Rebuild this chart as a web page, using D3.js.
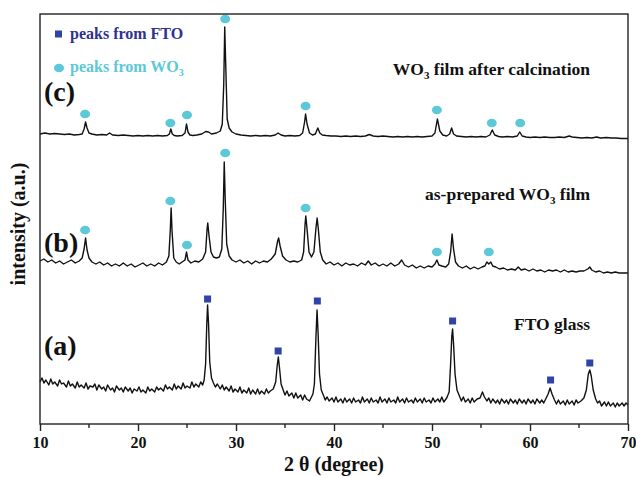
<!DOCTYPE html>
<html>
<head>
<meta charset="utf-8">
<script src="https://cdn.jsdelivr.net/npm/d3@7"></script>
<style>
  body { margin: 0; background: #fff; }
  svg text { font-family: "Liberation Serif", "DejaVu Serif", serif; font-weight: bold; }
</style>
</head>
<body>
<svg id="chart" width="636" height="477"></svg>
<script>
// 2theta (degree) vs intensity (a.u.)
let traceC = [[10,290],[10.5,291],[11,290],[11.5,290.5],[12,290],[12.5,289.5],[13,290],[13.5,289],[14,289.5],[14.3,290],[14.5,295],[14.65,302],[14.8,296],[15,291],[15.3,290],[15.8,289],[16.3,289.5],[16.8,289],[17.1,291],[17.4,289],[18,288.5],[18.5,289],[19,288.5],[19.5,288],[20,288.5],[20.5,288],[21,288.5],[21.5,288],[22,288.5],[22.5,288],[23,288.5],[23.2,290],[23.35,295],[23.5,290],[23.7,288.5],[24,288],[24.5,288.5],[24.8,291],[24.95,300],[25.1,292],[25.3,289],[25.6,288.5],[26,289],[26.5,290],[26.9,292.5],[27.2,292],[27.5,290],[28,291],[28.4,293],[28.6,300],[28.75,340],[28.85,397],[28.95,360],[29.1,305],[29.3,296],[29.6,292],[30,290],[30.5,289],[31,288.5],[31.5,288],[32,288.5],[32.5,288],[33,288.5],[33.5,288],[34,289],[34.3,291],[34.6,289],[35,288],[35.5,288.5],[36,288],[36.5,288.5],[36.8,291],[37,302],[37.1,310],[37.25,300],[37.5,291],[37.8,289],[38.1,290],[38.35,296],[38.55,291],[38.8,289],[39.2,288.5],[39.7,288],[40.2,288],[40.7,287.5],[41.2,288],[41.7,287.5],[42.2,288],[42.7,287.5],[43.2,288],[43.6,289.5],[44,288],[44.5,287.5],[45,288],[45.5,287.5],[46,287],[46.5,287.5],[47,287],[47.5,287.5],[48,287],[48.5,287.5],[49,287],[49.5,287.5],[50,288],[50.3,291],[50.55,305],[50.8,293],[51.1,289],[51.5,288],[51.8,290],[52,296],[52.2,290],[52.5,288],[53,287.5],[53.5,287],[54,287.5],[54.5,287],[55,287.5],[55.5,287],[55.9,289],[56.15,294],[56.4,289],[56.8,287.5],[57.2,287],[57.7,287.5],[58.2,287],[58.7,288],[58.95,292],[59.2,288],[59.6,287],[60,286.5],[60.5,287],[61,286.5],[61.5,287],[62,286.5],[62.5,286.5],[63,287],[63.5,286.5],[64,288],[64.3,287],[64.8,286.5],[65.3,286],[65.8,286.5],[66.3,286],[66.8,287],[67.2,286],[67.8,286.5],[68.3,286],[68.8,286],[69.3,285.5],[70,285.5]];

let traceB = [[10,163],[10.4,165],[10.8,162],[11.2,164],[11.6,161],[12,163],[12.4,160],[12.8,162],[13.2,164],[13.6,161],[14,163],[14.3,166],[14.5,175],[14.65,186],[14.8,174],[15,166],[15.3,162],[15.7,160],[16.1,162],[16.5,159],[16.9,161],[17.3,158],[17.7,160],[18.1,158],[18.5,161],[18.9,158],[19.3,160],[19.7,157],[20.1,159],[20.5,161],[20.9,158],[21.3,160],[21.7,158],[22.1,161],[22.5,159],[22.9,162],[23.15,168],[23.3,195],[23.38,216],[23.48,192],[23.65,166],[23.9,162],[24.2,160],[24.5,162],[24.8,164],[24.95,172],[25.1,164],[25.4,161],[25.8,163],[26.2,162],[26.6,165],[26.9,172],[27.05,195],[27.12,201],[27.25,188],[27.45,172],[27.7,167],[28,166],[28.3,167],[28.55,175],[28.7,215],[28.8,262],[28.9,225],[29.05,180],[29.3,168],[29.6,164],[30,162],[30.4,164],[30.8,161],[31.2,163],[31.6,160],[32,163],[32.4,161],[32.8,163],[33.2,162],[33.6,165],[34,170],[34.25,183],[34.35,186],[34.5,178],[34.75,168],[35.1,164],[35.5,162],[35.9,163],[36.3,162],[36.7,164],[36.9,172],[37.05,200],[37.12,208],[37.25,195],[37.45,172],[37.7,167],[37.95,172],[38.15,195],[38.28,206],[38.4,195],[38.6,172],[38.85,164],[39.2,160],[39.6,162],[40,159],[40.4,161],[40.8,158],[41.2,161],[41.6,159],[42,160],[42.4,158],[42.8,161],[43.2,159],[43.5,163],[43.8,159],[44.2,161],[44.6,158],[45,160],[45.4,158],[45.8,161],[46.2,158],[46.6,160],[46.9,164],[47.2,159],[47.6,157],[48,159],[48.4,156],[48.8,158],[49.2,156],[49.6,158],[50,157],[50.3,160],[50.5,164],[50.7,159],[51,158],[51.4,157],[51.7,160],[51.9,172],[52.05,190],[52.2,175],[52.4,162],[52.7,158],[53.1,156],[53.5,158],[53.9,155],[54.3,157],[54.7,155],[55.1,157],[55.4,158],[55.6,162],[55.8,160],[56,162],[56.2,158],[56.5,157],[56.9,155],[57.3,156],[57.7,154],[58.1,155],[58.5,154],[58.8,157],[59.1,154],[59.5,155],[59.9,153],[60.3,155],[60.7,153],[61.1,154],[61.5,152],[61.9,154],[62.3,153],[62.7,154],[63.1,152],[63.5,154],[63.9,152],[64.3,153],[64.7,152],[65.1,153],[65.5,153],[65.9,155],[66.1,157],[66.3,154],[66.7,152],[67.1,153],[67.5,151],[67.9,152],[68.3,151],[68.7,152],[69.1,151],[69.5,151],[70,151]];

let traceA = [[10,42],[10.2,46],[10.4,41],[10.6,44],[10.9,39],[11.1,45],[11.3,40],[11.5,42],[11.8,38],[12.0,44],[12.2,40],[12.4,41],[12.7,37],[12.9,43],[13.1,38],[13.3,40],[13.6,36],[13.8,42],[14.0,37],[14.2,39],[14.5,36],[14.7,41],[14.9,35],[15.1,38],[15.4,37],[15.6,40],[15.8,34],[16.0,39],[16.3,35],[16.5,37],[16.7,33],[16.9,39],[17.2,34],[17.4,36],[17.6,32],[17.8,38],[18.1,34],[18.3,36],[18.5,32],[18.7,37],[19,33],[19.2,36],[19.4,31],[19.6,35],[19.9,33],[20.1,37],[20.3,32],[20.5,34],[20.8,31],[21.0,37],[21.2,33],[21.4,35],[21.7,32],[21.9,37],[22.1,34],[22.3,36],[22.6,33],[22.8,39],[23.0,35],[23.2,37],[23.5,34],[23.7,40],[23.9,35],[24.1,38],[24.4,35],[24.6,41],[24.8,36],[25.0,38],[25.3,36],[25.5,42],[25.7,37],[25.9,40],[26.2,37],[26.4,42],[26.6,39],[26.75,44],[26.9,60],[27.02,100],[27.1,119],[27.2,100],[27.32,62],[27.5,46],[27.7,41],[27.9,37],[28.1,40],[28.4,35],[28.6,39],[28.8,34],[29,37],[29.3,33],[29.5,38],[29.7,32],[29.9,35],[30.2,32],[30.4,37],[30.6,31],[30.8,34],[31.1,31],[31.3,36],[31.5,30],[31.7,34],[32,30],[32.2,35],[32.4,30],[32.6,33],[32.9,30],[33.1,35],[33.3,31],[33.5,33],[33.8,35],[34.05,42],[34.2,58],[34.32,67],[34.45,55],[34.6,40],[34.85,33],[35.0,29],[35.2,33],[35.4,28],[35.7,31],[35.9,26],[36.1,31],[36.3,26],[36.6,29],[36.8,24],[37.0,29],[37.2,25],[37.5,23],[37.7,27],[37.85,30],[38,40],[38.15,85],[38.27,114],[38.38,90],[38.52,50],[38.7,34],[38.95,28],[39.1,24],[39.3,27],[39.5,23],[39.8,26],[40.0,22],[40.2,27],[40.4,22],[40.7,25],[40.9,21],[41.1,26],[41.3,22],[41.6,25],[41.8,21],[42.0,26],[42.2,22],[42.5,24],[42.7,21],[42.9,27],[43.1,22],[43.4,25],[43.6,21],[43.8,26],[44.0,22],[44.3,24],[44.5,21],[44.7,27],[44.9,22],[45.2,25],[45.4,21],[45.6,26],[45.8,22],[46.1,24],[46.3,21],[46.5,27],[46.7,22],[47,25],[47.2,21],[47.4,26],[47.6,22],[47.9,24],[48.1,21],[48.3,26],[48.5,22],[48.8,25],[49.0,21],[49.2,26],[49.4,22],[49.7,24],[49.9,21],[50.1,26],[50.3,22],[50.6,25],[50.8,22],[51.0,27],[51.2,22],[51.5,26],[51.75,32],[51.9,60],[52.02,88],[52.1,95],[52.2,80],[52.35,50],[52.55,34],[52.8,28],[53.0,23],[53.2,27],[53.4,22],[53.7,25],[53.9,21],[54.1,26],[54.3,22],[54.6,25],[54.9,26],[55.15,32],[55.35,27],[55.6,23],[55.8,26],[56.0,21],[56.2,25],[56.5,21],[56.7,24],[56.9,20],[57.1,25],[57.4,21],[57.6,24],[57.8,20],[58.0,25],[58.3,21],[58.5,24],[58.7,20],[58.9,25],[59.2,21],[59.4,24],[59.6,20],[59.8,25],[60.1,21],[60.3,24],[60.5,20],[60.7,25],[61,21],[61.2,24],[61.4,21],[61.6,25],[61.85,30],[62.05,36],[62.25,30],[62.5,24],[62.7,20],[62.9,24],[63.1,20],[63.4,23],[63.6,19],[63.8,24],[64.0,20],[64.3,23],[64.5,19],[64.7,24],[64.9,21],[65.2,23],[65.5,26],[65.75,34],[65.95,50],[66.1,54],[66.25,48],[66.45,34],[66.7,25],[66.9,21],[67.1,23],[67.3,18],[67.6,22],[67.8,18],[68.0,22],[68.2,18],[68.5,21],[68.7,17],[68.9,21],[69.1,18],[69.4,21],[69.6,18],[69.8,21],[70,19]];

// peak markers [2theta, intensity]
let ftoPeaks = [[27.1,125],[34.3,73],[38.3,123],[52.1,103],[62.1,44],[66.1,61]];
let wo3PeaksC = [[14.6,310],[23.3,301],[25.0,309],[28.9,405],[37.1,318],[50.5,314],[56.1,301],[59.0,301]];
let wo3PeaksB = [[14.6,194],[23.3,223],[25.0,179],[28.9,271],[37.1,216],[50.5,172],[55.8,172]];

let xTicks = [10, 20, 30, 40, 50, 60, 70];
let xMinor = [15, 25, 35, 45, 55, 65];

let width = 636, height = 477;
let margin = {left: 40, right: 8, top: 14, bottom: 53};

let svg = d3.select('#chart');
let x = d3.scaleLinear().domain([10, 70]).range([margin.left, width - margin.right]);
let y = d3.scaleLinear().domain([0, 410]).range([height - margin.bottom, margin.top]);

let line = d3.line().x(d => x(d[0])).y(d => y(d[1]));

// traces
[traceC, traceB, traceA].forEach(function (tr) {
  svg.append('path')
    .datum(tr)
    .attr('d', line)
    .attr('fill', 'none')
    .attr('stroke', '#111')
    .attr('stroke-width', 1.4)
    .attr('stroke-linejoin', 'round');
});

// markers
let cyan = '#5cc8d8', blue = '#2f44a8';
svg.append('g').selectAll('ellipse')
  .data(wo3PeaksC.concat(wo3PeaksB))
  .enter().append('ellipse')
  .attr('cx', d => x(d[0])).attr('cy', d => y(d[1]))
  .attr('rx', 5).attr('ry', 4.3)
  .attr('fill', cyan);

svg.append('g').selectAll('rect')
  .data(ftoPeaks)
  .enter().append('rect')
  .attr('x', d => x(d[0]) - 3.5).attr('y', d => y(d[1]) - 3.5)
  .attr('width', 7).attr('height', 7)
  .attr('fill', blue);

// frame
svg.append('rect')
  .attr('x', margin.left).attr('y', margin.top)
  .attr('width', width - margin.left - margin.right)
  .attr('height', height - margin.top - margin.bottom)
  .attr('fill', 'none').attr('stroke', '#222').attr('stroke-width', 1.4);

// x axis
let xAxis = svg.append('g')
  .attr('transform', 'translate(0,' + (height - margin.bottom) + ')')
  .call(d3.axisBottom(x).tickValues(xTicks).tickSize(7).tickPadding(6).tickFormat(d3.format('d')));
xAxis.select('.domain').remove();
xAxis.selectAll('line').attr('stroke', '#222').attr('stroke-width', 1.4);
xAxis.selectAll('text').attr('font-size', 16).attr('fill', '#111')
  .style('font-family', '"Liberation Serif", serif').style('font-weight', 'bold');

svg.append('g')
  .attr('transform', 'translate(0,' + (height - margin.bottom) + ')')
  .selectAll('line').data(xMinor).enter().append('line')
  .attr('x1', d => x(d)).attr('x2', d => x(d))
  .attr('y1', 0).attr('y2', 4)
  .attr('stroke', '#222').attr('stroke-width', 1.4);

// axis titles
svg.append('text')
  .attr('x', 334).attr('y', 471)
  .attr('text-anchor', 'middle').attr('font-size', 20).attr('fill', '#111')
  .text('2 θ (degree)');

svg.append('text')
  .attr('transform', 'translate(25,224) rotate(-90)')
  .attr('text-anchor', 'middle').attr('font-size', 20).attr('fill', '#111')
  .text('intensity (a.u.)');

// panel letters
let letters = [['(c)', 101], ['(b)', 252], ['(a)', 355]];
svg.selectAll('.letter').data(letters).enter().append('text')
  .attr('class', 'letter')
  .attr('x', 44).attr('y', d => d[1])
  .attr('font-size', 28).attr('fill', '#111')
  .text(d => d[0]);

// trace labels
let lab1 = svg.append('text').attr('x', 590).attr('y', 75).attr('text-anchor', 'end')
  .attr('font-size', 17.5).attr('fill', '#111');
lab1.append('tspan').text('WO');
lab1.append('tspan').attr('font-size', 11).attr('dy', 4).text('3');
lab1.append('tspan').attr('dy', -4).text(' film after calcination');

let lab2 = svg.append('text').attr('x', 590).attr('y', 200).attr('text-anchor', 'end')
  .attr('font-size', 17.5).attr('fill', '#111');
lab2.append('tspan').text('as-prepared WO');
lab2.append('tspan').attr('font-size', 11).attr('dy', 4).text('3');
lab2.append('tspan').attr('dy', -4).text(' film');

svg.append('text').attr('x', 590).attr('y', 330).attr('text-anchor', 'end')
  .attr('font-size', 17.5).attr('fill', '#111').text('FTO glass');

// legend
svg.append('rect').attr('x', 55).attr('y', 30.5).attr('width', 7).attr('height', 7).attr('fill', blue);
svg.append('text').attr('x', 70).attr('y', 39).attr('font-size', 16).attr('fill', '#2e3192').text('peaks from FTO');
svg.append('ellipse').attr('cx', 59).attr('cy', 68).attr('rx', 5).attr('ry', 4.3).attr('fill', cyan);
let lg = svg.append('text').attr('x', 70).attr('y', 72).attr('font-size', 16).attr('fill', cyan);
lg.append('tspan').text('peaks from WO');
lg.append('tspan').attr('font-size', 10).attr('dy', 4).text('3');
</script>
</body>
</html>
